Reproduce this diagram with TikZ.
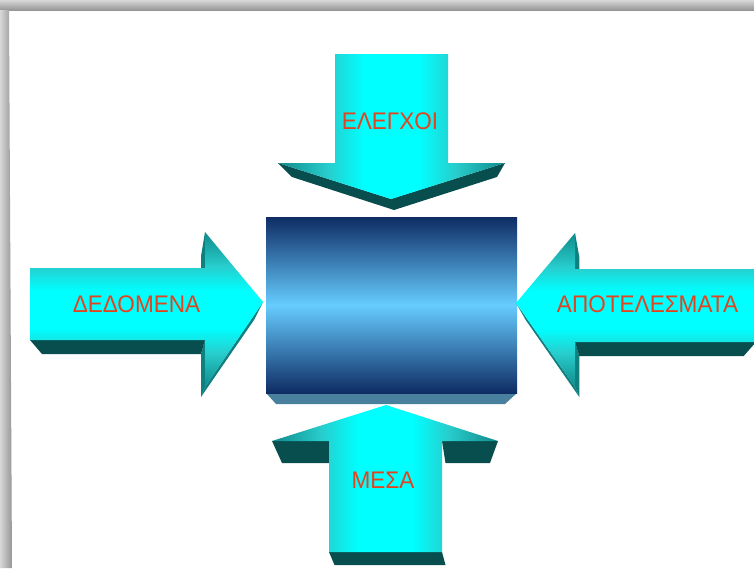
\documentclass[tikz,border=0pt]{standalone}
\usepackage{fontspec}
\setmainfont{Liberation Sans}
\newfontfamily\labelfont[FakeStretch=0.94]{Liberation Sans}

% palette
\definecolor{tealedge}{RGB}{16,138,138}
\definecolor{tealmid}{RGB}{40,205,205}
\definecolor{aqua}{RGB}{0,255,255}
\definecolor{darkside}{RGB}{8,78,78}
\definecolor{midside}{RGB}{14,128,128}
\definecolor{navy}{RGB}{14,44,100}
\definecolor{sky}{RGB}{102,204,255}
\definecolor{boxfloor}{RGB}{72,128,158}
\definecolor{labelred}{RGB}{226,68,30}
\definecolor{shadowlight}{RGB}{215,215,215}
\definecolor{shadowdark}{RGB}{150,150,150}

% face shadings (path box maps onto 25bp..75bp)
\pgfdeclareverticalshading{arrowface}{100bp}{color(0bp)=(tealedge); color(25bp)=(tealedge); color(36bp)=(tealmid); color(44bp)=(aqua); color(56bp)=(aqua); color(64bp)=(tealmid); color(75bp)=(tealedge); color(100bp)=(tealedge)}
\pgfdeclareverticalshading{boxface}{100bp}{color(0bp)=(navy); color(25bp)=(navy); color(50bp)=(sky); color(75bp)=(navy); color(100bp)=(navy)}

\begin{document}
\begin{tikzpicture}[x=1pt, y=-1pt,
  lbl/.style={font=\labelfont\fontsize{24}{24}\selectfont, text=labelred, inner sep=0pt},
  hface/.style={shading=arrowface},
  vface/.style={shading=arrowface, shading angle=90},
  floorside/.style={fill=darkside},
  wallside/.style={fill=midside}]
\useasboundingbox (0,0) rectangle (754,568);
\fill[white] (0,0) rectangle (754,568);

% frame shadow along the top and left edges
\shade[top color=shadowlight, bottom color=shadowdark] (0,0) rectangle (754,10);
\shade[left color=shadowlight, right color=shadowdark] (0,10) -- (9,10) -- (12,568) -- (0,568) -- cycle;

\begin{scope}
\clip (0,0) rectangle (754,568);

% central block
\fill[boxfloor] (266,393) -- (517,393) -- (505,404) -- (276,404) -- cycle;
\node[shading=boxface, minimum width=251pt, minimum height=176pt, inner sep=0pt] (process) at (391.5,305) {};

% top arrow (pointing down)
\fill[floorside] (278,163) -- (292,177) -- (394,210) -- (497,177) -- (505,163) -- (391,199) -- cycle;
\shade[vface] (335,54) -- (448,54) -- (448,163) -- (505,163) -- (391,199) -- (278,163) -- (335,163) -- cycle;

% bottom arrow (pointing up)
\fill[floorside] (272,441) -- (329,441) -- (334.5,463) -- (282,463) -- cycle;
\fill[floorside] (442,441) -- (498,441) -- (490,463) -- (445.5,463) -- cycle;
\fill[floorside] (329,552) -- (442,552) -- (445.5,565) -- (334.5,565) -- cycle;
\shade[vface] (386,405) -- (498,441) -- (442,441) -- (442,552) -- (329,552) -- (329,441) -- (272,441) -- cycle;

% left arrow (pointing right)
\fill[wallside] (205,232) -- (201,256) -- (201,289) -- (205,289) -- cycle;
\fill[wallside] (205,340) -- (201,354) -- (201,397) -- (205,387) -- cycle;
\fill[wallside] (263,302) -- (254,320) -- (201,397) -- (205,387) -- cycle;
\fill[floorside] (30,340) -- (205,340) -- (201,354) -- (42,354) -- cycle;
\shade[hface] (30,268) -- (205,268) -- (205,232) -- (263,302) -- (205,387) -- (205,340) -- (30,340) -- cycle;

% right arrow (pointing left)
\fill[wallside] (575,233) -- (579.3,257) -- (579.3,290) -- (575,290) -- cycle;
\fill[wallside] (575,342) -- (579.3,356) -- (579.3,397) -- (575,387) -- cycle;
\fill[wallside] (516,303) -- (525.7,320) -- (579.3,397) -- (575,387) -- cycle;
\fill[floorside] (575,342) -- (756,342) -- (743.7,356) -- (579.3,356) -- cycle;
\shade[hface] (756,269) -- (575,269) -- (575,233) -- (516,303) -- (575,387) -- (575,342) -- (756,342) -- cycle;
\end{scope}

% labels
\node[lbl] (controls) at (390,121) {ΕΛΕΓΧΟΙ};
\node[lbl] (data) at (136.5,304) {ΔΕΔΟΜΕΝΑ};
\node[lbl] (results) at (647.5,304) {ΑΠΟΤΕΛΕΣΜΑΤΑ};
\node[lbl] (means) at (383,480) {ΜΕΣΑ};
\end{tikzpicture}
\end{document}
